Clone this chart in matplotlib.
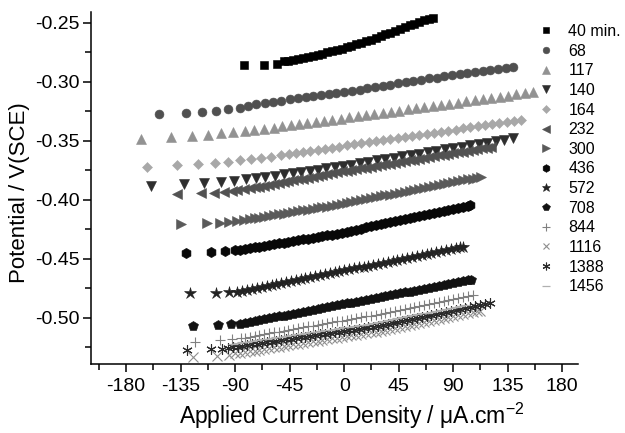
import numpy as np
import matplotlib
matplotlib.use("Agg")
import matplotlib.pyplot as plt
from matplotlib.ticker import MultipleLocator, FormatStrFormatter

plt.rcParams['font.family'] = ['Liberation Sans', 'DejaVu Sans']
plt.rcParams['axes.unicode_minus'] = False
plt.rcParams['mathtext.default'] = 'regular'

# immersion times (legend labels)
labels = ['40 min.', '68', '117', '140', '164', '232', '300', '436', '572',
          '708', '844', '1116', '1388', '1456']

# (current density uA/cm2, potential V(SCE))
s40 = [(-82.9,-0.2856),(-66.4,-0.2855),(-55.7,-0.2848),(-50,-0.2826),(-46,-0.2819),(-42,-0.2811),
       (-38,-0.2803),(-34,-0.2796),(-30,-0.2787),(-26,-0.2777),(-22,-0.2769),(-18,-0.2760),
       (-14,-0.2750),(-10,-0.2740),(-6,-0.2729),(-2,-0.2718),(2,-0.2706),(6,-0.2694),
       (10,-0.2682),(14,-0.2669),(18,-0.2655),(22,-0.2641),(26,-0.2625),(30,-0.2610),
       (34,-0.2596),(38,-0.2581),(42,-0.2566),(46,-0.2553),(50,-0.2536),(54,-0.2521),
       (58,-0.2506),(62,-0.2492),(66,-0.2479),(70,-0.2466),(73,-0.2458)]
s68 = [(-152.8,-0.3274),(-130.8,-0.3265),(-117.1,-0.3257),(-105.5,-0.3246),(-95.9,-0.3229),
       (-86.3,-0.3218),(-79.4,-0.3203),(-72.5,-0.3189),(-65.7,-0.3181),(-58.8,-0.3167),
       (-51.9,-0.3158),(-45.1,-0.3147),(-38.2,-0.3136),(-31.8,-0.3128),(-25.5,-0.3120),
       (-19.1,-0.3111),(-12.8,-0.3102),(-6.4,-0.3094),(0,-0.3084),(6.3,-0.3075),(12.7,-0.3065),
       (19.0,-0.3055),(25.4,-0.3045),(31.7,-0.3035),(38.1,-0.3023),(44.4,-0.3012),(50.8,-0.3002),
       (57.1,-0.2991),(63.5,-0.2980),(69.8,-0.2970),(76.2,-0.2963),(82.5,-0.2953),(88.9,-0.2944),
       (95.2,-0.2935),(101.6,-0.2925),(107.9,-0.2916),(114.3,-0.2907),(120.6,-0.2898),
       (127,-0.2888),(133.3,-0.2879),(139.7,-0.2870)]
s117 = [(-167.4,-0.3486),(-142.6,-0.3469),(-125.3,-0.3458),(-112.4,-0.3447),(-101.4,-0.3435),
        (-91.8,-0.3426),(-82.2,-0.3418),(-74.4,-0.3409),(-66.2,-0.3401),(-58.0,-0.3387),
        (-51.1,-0.3377),(-44.2,-0.3368),(-37.3,-0.3358),(-30.4,-0.3348),(-23.5,-0.3339),
        (-16.6,-0.3329),(-9.7,-0.3319),(-2.8,-0.3310),(4.1,-0.3300),(11.0,-0.3290),(17.9,-0.3280),
        (24.8,-0.3271),(31.7,-0.3261),(38.6,-0.3251),(45.5,-0.3242),(52.4,-0.3232),(59.3,-0.3222),
        (66.2,-0.3213),(73.1,-0.3203),(80.0,-0.3193),(86.9,-0.3183),(93.8,-0.3174),(100.7,-0.3164),
        (107.6,-0.3154),(114.5,-0.3145),(121.4,-0.3135),(128.3,-0.3125),(135.2,-0.3116),
        (142.1,-0.3106),(149.0,-0.3096),(155.9,-0.3087)]
s140 = [(-159.1,-0.3881),(-132.2,-0.3864),(-115.7,-0.3853),(-102.0,-0.3845),(-90.9,-0.3836),
        (-80.8,-0.3825),(-72.5,-0.3811),(-65.1,-0.3803),(-57.4,-0.3794),(-49.7,-0.3782),
        (-42.3,-0.3774),(-35.4,-0.3765),(-28.6,-0.3754),(-21.7,-0.3746),(-14.8,-0.3731),
        (-8.0,-0.3723),(-1,-0.3711),(6,-0.3700),(13,-0.3688),(20,-0.3676),(27,-0.3665),
        (34,-0.3653),(41,-0.3641),(48,-0.3630),(55,-0.3618),(62,-0.3607),(69,-0.3595),
        (76,-0.3583),(83,-0.3572),(90,-0.3560),(97,-0.3548),(104,-0.3537),(111,-0.3525),
        (118,-0.3514),(125,-0.3502),(132,-0.3490),(139,-0.3479)]
s164 = [(-162.4,-0.3718),(-137.7,-0.3703),(-120.6,-0.3695),(-106.9,-0.3684),(-95.9,-0.3675),
        (-86.3,-0.3661),(-76.7,-0.3655),(-68.4,-0.3642),(-60.2,-0.3633),(-51.9,-0.3619),
        (-45.9,-0.3610),(-39.9,-0.3601),(-33.9,-0.3592),(-27.9,-0.3583),(-21.9,-0.3574),
        (-15.9,-0.3565),(-9.9,-0.3556),(-3.9,-0.3547),(2.1,-0.3538),(8.1,-0.3529),(14.1,-0.3520),
        (20.1,-0.3511),(26.1,-0.3502),(32.1,-0.3493),(38.1,-0.3484),(44.1,-0.3475),(50.1,-0.3466),
        (56.1,-0.3457),(62.1,-0.3448),(68.1,-0.3439),(74.1,-0.3430),(80.1,-0.3421),(86.1,-0.3412),
        (92.1,-0.3403),(98.1,-0.3394),(104.1,-0.3385),(110.1,-0.3376),(116.1,-0.3367),
        (122.1,-0.3358),(128.1,-0.3349),(134.1,-0.3340),(140.1,-0.3331),(146.1,-0.3322)]
s232 = [(-137.6,-0.3952),(-118.4,-0.3943),(-107.4,-0.3938),(-99.2,-0.3930),(-92.2,-0.3921),
        (-88.1,-0.3915),(-82.7,-0.3909),(-78,-0.3901),(-74,-0.3893),(-70,-0.3886),(-66,-0.3878),
        (-62,-0.3871),(-58,-0.3863),(-54,-0.3856),(-50,-0.3848),(-46,-0.3840),(-42,-0.3833),
        (-38,-0.3825),(-34,-0.3818),(-30,-0.3810),(-26,-0.3802),(-22,-0.3795),(-18,-0.3787),
        (-14,-0.3780),(-10,-0.3772),(-6,-0.3765),(-2,-0.3758),(2,-0.3752),(6,-0.3745),
        (10,-0.3738),(14,-0.3731),(18,-0.3725),(22,-0.3718),(26,-0.3711),(30,-0.3704),
        (34,-0.3698),(38,-0.3691),(42,-0.3684),(46,-0.3677),(50,-0.3671),(54,-0.3664),
        (58,-0.3657),(62,-0.3650),(66,-0.3644),(70,-0.3637),(74,-0.3630),(78,-0.3623),
        (82,-0.3617),(86,-0.3610),(90,-0.3603),(94,-0.3596),(98,-0.3590),(102,-0.3583),
        (106,-0.3576),(110,-0.3569),(114,-0.3563),(118,-0.3556),(121,-0.3551)]
s300 = [(-134.9,-0.4203),(-113.4,-0.4197),(-102.5,-0.4192),(-95.0,-0.4184),(-88.1,-0.4175),
        (-82.7,-0.4169),(-78,-0.4162),(-74,-0.4155),(-70,-0.4149),(-66,-0.4142),(-62,-0.4136),
        (-58,-0.4129),(-54,-0.4122),(-50,-0.4116),(-46,-0.4109),(-42,-0.4103),(-38,-0.4096),
        (-34,-0.4089),(-30,-0.4083),(-26,-0.4076),(-22,-0.4070),(-18,-0.4063),(-14,-0.4057),
        (-10,-0.4050),(-6,-0.4042),(-2,-0.4034),(2,-0.4026),(6,-0.4018),(10,-0.4010),
        (14,-0.4002),(18,-0.3994),(22,-0.3986),(26,-0.3978),(30,-0.3970),(34,-0.3962),
        (38,-0.3954),(42,-0.3946),(46,-0.3938),(50,-0.3930),(54,-0.3922),(58,-0.3914),
        (62,-0.3906),(66,-0.3898),(70,-0.3890),(74,-0.3882),(78,-0.3874),(82,-0.3866),
        (86,-0.3858),(90,-0.3850),(94,-0.3842),(98,-0.3834),(102,-0.3826),(106,-0.3818),
        (110,-0.3810),(113,-0.3804)]
s436 = [(-130.8,-0.4447),(-109.7,-0.4441),(-98.3,-0.4435),(-90.2,-0.4428),(-86,-0.4422),
        (-82,-0.4415),(-78,-0.4408),(-74,-0.4401),(-70,-0.4395),(-66,-0.4388),(-62,-0.4381),
        (-58,-0.4374),(-54,-0.4367),(-50,-0.4361),(-46,-0.4354),(-42,-0.4347),(-38,-0.4340),
        (-34,-0.4333),(-30,-0.4327),(-26,-0.4320),(-22,-0.4313),(-18,-0.4306),(-14,-0.4299),
        (-10,-0.4293),(-6,-0.4286),(-2,-0.4277),(2,-0.4268),(6,-0.4259),(10,-0.4251),
        (14,-0.4242),(18,-0.4233),(22,-0.4224),(26,-0.4215),(30,-0.4206),(34,-0.4198),
        (38,-0.4189),(42,-0.4180),(46,-0.4171),(50,-0.4162),(54,-0.4153),(58,-0.4145),
        (62,-0.4136),(66,-0.4127),(70,-0.4118),(74,-0.4109),(78,-0.4100),(82,-0.4092),
        (86,-0.4083),(90,-0.4074),(94,-0.4065),(98,-0.4056),(102,-0.4048),(104,-0.4044)]
s572 = [(-127.5,-0.4791),(-105.6,-0.4786),(-95.0,-0.4780),(-88.1,-0.4777),(-84,-0.4769),
        (-80,-0.4761),(-76,-0.4753),(-72,-0.4744),(-68,-0.4736),(-64,-0.4728),(-60,-0.4720),
        (-56,-0.4712),(-52,-0.4703),(-48,-0.4695),(-44,-0.4687),(-40,-0.4679),(-36,-0.4671),
        (-32,-0.4662),(-28,-0.4654),(-24,-0.4646),(-20,-0.4638),(-16,-0.4630),(-12,-0.4621),
        (-8,-0.4613),(-4,-0.4605),(0,-0.4597),(4,-0.4589),(8,-0.4580),(12,-0.4572),
        (16,-0.4564),(20,-0.4556),(24,-0.4548),(28,-0.4539),(32,-0.4531),(36,-0.4523),
        (40,-0.4515),(44,-0.4507),(48,-0.4498),(52,-0.4490),(56,-0.4482),(60,-0.4474),
        (64,-0.4466),(68,-0.4457),(72,-0.4449),(76,-0.4441),(80,-0.4433),(84,-0.4425),
        (88,-0.4416),(92,-0.4408),(96,-0.4400),(98,-0.4396)]
s708 = [(-125.2,-0.5068),(-104.4,-0.5059),(-93.6,-0.5053),(-85.7,-0.5047),(-82,-0.5041),
        (-78,-0.5033),(-74,-0.5025),(-70,-0.5018),(-66,-0.5010),(-62,-0.5002),(-58,-0.4994),
        (-54,-0.4986),(-50,-0.4979),(-46,-0.4971),(-42,-0.4963),(-38,-0.4955),(-34,-0.4947),
        (-30,-0.4940),(-26,-0.4932),(-22,-0.4924),(-18,-0.4916),(-14,-0.4908),(-10,-0.4901),
        (-6,-0.4893),(-2,-0.4885),(2,-0.4877),(6,-0.4869),(10,-0.4862),(14,-0.4854),
        (18,-0.4846),(22,-0.4838),(26,-0.4830),(30,-0.4823),(34,-0.4815),(38,-0.4807),
        (42,-0.4799),(46,-0.4791),(50,-0.4784),(54,-0.4776),(58,-0.4768),(62,-0.4760),
        (66,-0.4752),(70,-0.4745),(74,-0.4737),(78,-0.4729),(82,-0.4721),(86,-0.4713),
        (90,-0.4706),(94,-0.4698),(98,-0.4690),(102,-0.4682),(105,-0.4676)]
s844 = [(-123.3,-0.5201),(-102.5,-0.5186),(-92.2,-0.5181),(-85.4,-0.5172),(-82,-0.5166),
        (-78,-0.5159),(-74,-0.5152),(-70,-0.5144),(-66,-0.5137),(-62,-0.5130),(-58,-0.5123),
        (-54,-0.5116),(-50,-0.5108),(-46,-0.5101),(-42,-0.5094),(-38,-0.5087),(-34,-0.5080),
        (-30,-0.5072),(-26,-0.5065),(-22,-0.5058),(-18,-0.5051),(-14,-0.5044),(-10,-0.5036),
        (-6,-0.5029),(-2,-0.5022),(2,-0.5015),(6,-0.5008),(10,-0.5000),(14,-0.4993),
        (18,-0.4986),(22,-0.4979),(26,-0.4972),(30,-0.4964),(34,-0.4956),(38,-0.4948),
        (42,-0.4939),(46,-0.4931),(50,-0.4923),(54,-0.4915),(58,-0.4907),(62,-0.4898),
        (66,-0.4890),(70,-0.4882),(74,-0.4874),(78,-0.4866),(82,-0.4857),(86,-0.4849),
        (90,-0.4841),(94,-0.4833),(98,-0.4825),(102,-0.4816),(106,-0.4808)]
s1116 = [(-125.2,-0.5328),(-104.6,-0.5319),(-95.0,-0.5314),(-90,-0.5301),(-86,-0.5295),
         (-82,-0.5288),(-78,-0.5282),(-74,-0.5276),(-70,-0.5269),(-66,-0.5263),(-62,-0.5256),
         (-58,-0.5250),(-54,-0.5244),(-50,-0.5237),(-46,-0.5231),(-42,-0.5224),(-38,-0.5218),
         (-34,-0.5212),(-30,-0.5205),(-26,-0.5199),(-22,-0.5192),(-18,-0.5186),(-14,-0.5180),
         (-10,-0.5173),(-6,-0.5167),(-2,-0.5160),(2,-0.5154),(6,-0.5148),(10,-0.5141),
         (14,-0.5135),(18,-0.5128),(22,-0.5122),(26,-0.5115),(30,-0.5107),(34,-0.5099),
         (38,-0.5091),(42,-0.5082),(46,-0.5074),(50,-0.5066),(54,-0.5058),(58,-0.5050),
         (62,-0.5041),(66,-0.5033),(70,-0.5025),(74,-0.5017),(78,-0.5009),(82,-0.5000),
         (86,-0.4992),(90,-0.4984),(94,-0.4976),(98,-0.4968),(102,-0.4959),(106,-0.4951),
         (110,-0.4943),(112,-0.4939)]
s1388 = [(-129.4,-0.5271),(-110.1,-0.5265),(-100.5,-0.5263),(-96,-0.5254),(-92,-0.5248),
         (-88,-0.5242),(-84,-0.5236),(-80,-0.5230),(-76,-0.5224),(-72,-0.5218),(-68,-0.5212),
         (-64,-0.5206),(-60,-0.5200),(-56,-0.5194),(-52,-0.5188),(-48,-0.5182),(-44,-0.5176),
         (-40,-0.5170),(-36,-0.5164),(-32,-0.5158),(-28,-0.5152),(-24,-0.5146),(-20,-0.5140),
         (-16,-0.5134),(-12,-0.5128),(-8,-0.5122),(-4,-0.5116),(0,-0.5110),(4,-0.5104),
         (8,-0.5098),(12,-0.5092),(16,-0.5086),(20,-0.5080),(24,-0.5074),(28,-0.5066),
         (32,-0.5058),(36,-0.5049),(40,-0.5041),(44,-0.5033),(48,-0.5025),(52,-0.5017),
         (56,-0.5008),(60,-0.5000),(64,-0.4992),(68,-0.4984),(72,-0.4976),(76,-0.4967),
         (80,-0.4959),(84,-0.4951),(88,-0.4943),(92,-0.4935),(96,-0.4926),(100,-0.4918),
         (104,-0.4910),(108,-0.4902),(112,-0.4894),(116,-0.4885),(120,-0.4877)]
s1456 = [(-92,-0.5218),(-88,-0.5212),(-84,-0.5206),(-80,-0.5200),(-76,-0.5194),(-72,-0.5188),
         (-68,-0.5182),(-64,-0.5176),(-60,-0.5170),(-56,-0.5164),(-52,-0.5158),(-48,-0.5152),
         (-44,-0.5146),(-40,-0.5140),(-36,-0.5134),(-32,-0.5128),(-28,-0.5122),(-24,-0.5116),
         (-20,-0.5110),(-16,-0.5104),(-12,-0.5098),(-8,-0.5092),(-4,-0.5086),(0,-0.5080),
         (4,-0.5074),(8,-0.5068),(12,-0.5062),(16,-0.5056),(20,-0.5050),(24,-0.5044),
         (28,-0.5036),(32,-0.5028),(36,-0.5019),(40,-0.5011),(44,-0.5003),(48,-0.4995),
         (52,-0.4987),(56,-0.4978),(60,-0.4970),(64,-0.4962),(68,-0.4954),(72,-0.4946),
         (76,-0.4937),(80,-0.4929),(84,-0.4921),(88,-0.4913),(92,-0.4905),(96,-0.4896),
         (100,-0.4888)]

series = [s40, s68, s117, s140, s164, s232, s300, s436, s572, s708, s844, s1116, s1388, s1456]

# marker, size, colour, edge width
styles = [('s', 5.6, '#000000', 0.4),
          ('o', 6.4, '#505050', 0.4),
          ('^', 7.2, '#929292', 0.4),
          ('v', 7.2, '#2e2e2e', 0.4),
          ('D', 5.0, '#a8a8a8', 0.4),
          ('<', 7.4, '#525252', 0.4),
          ('>', 7.4, '#5a5a5a', 0.4),
          ('h', 7.4, '#080808', 0.4),
          ('*', 8.6, '#222222', 0.4),
          ('p', 7.6, '#121212', 0.4),
          ('+', 7.0, '#808080', 0.8),
          ('x', 6.6, '#8e8e8e', 0.8),
          ((6, 2, 0), 7.4, '#2a2a2a', 0.8),
          ('_', 7.0, '#b0b0b0', 0.9)]

fig = plt.figure(figsize=(6.25, 4.33), dpi=100)
ax = fig.add_axes([91/625, 69/433, 487/625, 352/433])

for pts, lab, (mk, ms, col, mew) in zip(series, labels, styles):
    arr = np.array(pts)
    ax.plot(arr[:, 0], arr[:, 1], ls='none', marker=mk, ms=ms, color=col,
            mec=col, mew=mew, label=lab)

ax.set_xlim(-209, 193)
ax.set_ylim(-0.539, -0.2407)
ax.xaxis.set_major_locator(MultipleLocator(45))
ax.xaxis.set_minor_locator(MultipleLocator(22.5))
ax.yaxis.set_major_locator(MultipleLocator(0.05))
ax.yaxis.set_minor_locator(MultipleLocator(0.025))
ax.yaxis.set_major_formatter(FormatStrFormatter('%.2f'))

for s in ['top', 'right']:
    ax.spines[s].set_visible(False)
for s in ['left', 'bottom']:
    ax.spines[s].set_linewidth(1.1)
ax.tick_params(which='major', direction='out', length=6, width=1.1, labelsize=14, pad=2)
ax.tick_params(axis='x', which='major', pad=4)
ax.tick_params(which='minor', direction='out', length=4, width=1.1)

fig.text(352/625, 9/433, 'Applied Current Density / \u03bcA.cm$^{-2}$', fontsize=16.5,
         ha='center', va='baseline')
fig.text(25/625, 1 - 193/433, 'Potential / V(SCE)', fontsize=16, rotation=90,
         rotation_mode='anchor', ha='center', va='baseline')

ax.legend(loc='upper left', bbox_to_anchor=(538/625, 1 - 24/433),
          bbox_transform=fig.transFigure, frameon=False, fontsize=11.5,
          markerscale=0.75, handlelength=1.0, handletextpad=0.9,
          labelspacing=0.29, borderpad=0, borderaxespad=0)

plt.savefig('out.png', dpi=100)
